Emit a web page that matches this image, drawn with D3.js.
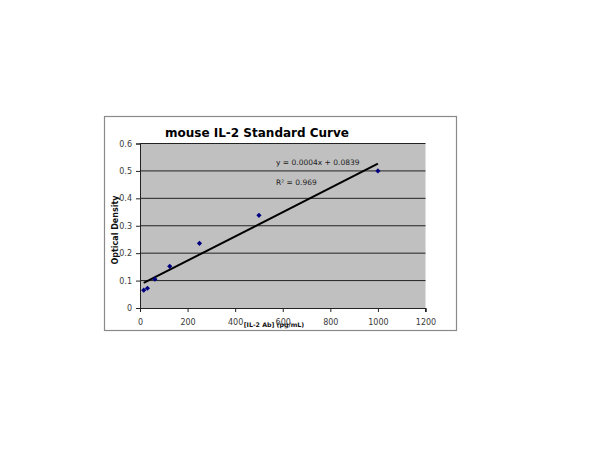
<!DOCTYPE html>
<html>
<head>
<meta charset="utf-8">
<script src="https://cdn.jsdelivr.net/npm/d3@7"></script>
<style>
  body { margin:0; background:#fff; }
  svg text { font-family: "DejaVu Sans", Verdana, sans-serif; }
</style>
</head>
<body>
<svg id="chart" width="610" height="458"></svg>
<script>
// data
const concentrations = [15.6, 31.25, 62.5, 125, 250, 500, 1000];
const densities = [0.065, 0.072, 0.105, 0.152, 0.236, 0.338, 0.5];
const xTicks = [0, 200, 400, 600, 800, 1000, 1200];
const yTicks = [0, 0.1, 0.2, 0.3, 0.4, 0.5, 0.6];
const titleText = 'mouse IL-2 Standard Curve';
const equationText = 'y = 0.0004x + 0.0839';
const r2Text = 'R\u00b2 = 0.969';

const svg = d3.select('#chart');

// outer chart box
svg.append('rect')
  .attr('x', 104.5).attr('y', 116.5).attr('width', 352).attr('height', 214)
  .attr('fill', '#fff').attr('stroke', '#8a8a8a').attr('stroke-width', 1.2);

const plot = {left:140, right:425.5, top:143.5, bottom:308};
const x = d3.scaleLinear().domain([0, 1200]).range([plot.left, plot.right]);
const y = d3.scaleLinear().domain([0, 0.6]).range([plot.bottom, plot.top]);

svg.append('rect')
  .attr('x', plot.left).attr('y', plot.top)
  .attr('width', plot.right - plot.left).attr('height', plot.bottom - plot.top)
  .attr('fill', '#c0c0c0');

// gridlines
svg.append('g').selectAll('line')
  .data(yTicks.slice(1))
  .join('line')
  .attr('x1', plot.left).attr('x2', plot.right)
  .attr('y1', d => y(d)).attr('y2', d => y(d))
  .attr('stroke', '#222').attr('stroke-width', 1);

// axes
const yAxis = svg.append('g')
  .attr('transform', `translate(${plot.left},0)`)
  .call(d3.axisLeft(y).tickValues(yTicks).tickSize(4).tickPadding(4).tickFormat(d3.format('')));
const xAxis = svg.append('g')
  .attr('transform', `translate(0,${plot.bottom})`)
  .call(d3.axisBottom(x).tickValues(xTicks).tickSize(4).tickPadding(5).tickFormat(d3.format('')));
[xAxis, yAxis].forEach(a => {
  a.select('.domain').attr('stroke', '#222').attr('stroke-width', 1);
  a.selectAll('.tick line').attr('stroke', '#222');
  a.selectAll('.tick text').attr('fill', '#3a3a3a').style('font-size', '8px');
});
xAxis.selectAll('.tick text').attr('dy', '1em');
svg.append('line')
  .attr('x1', plot.right).attr('x2', plot.right)
  .attr('y1', plot.bottom).attr('y2', plot.bottom + 4).attr('stroke', '#222');

// linear trendline (least squares from the points)
const mx = d3.mean(concentrations), my = d3.mean(densities);
let sxy = 0, sxx = 0;
concentrations.forEach((c, i) => { sxy += (c - mx) * (densities[i] - my); sxx += (c - mx) * (c - mx); });
const slope = sxy / sxx, intercept = my - slope * mx;
const x0 = d3.min(concentrations), x1 = d3.max(concentrations);
svg.append('line')
  .attr('x1', x(x0)).attr('y1', y(intercept + slope * x0))
  .attr('x2', x(x1)).attr('y2', y(intercept + slope * x1))
  .attr('stroke', '#000').attr('stroke-width', 2);

// markers
svg.append('g').selectAll('path')
  .data(concentrations.map((c, i) => [c, densities[i]]))
  .join('path')
  .attr('transform', d => `translate(${x(d[0])},${y(d[1])})`)
  .attr('d', 'M0,-2.6L2.6,0L0,2.6L-2.6,0Z')
  .attr('fill', '#000080');

// texts
svg.append('text')
  .attr('x', 165).attr('y', 137)
  .style('font-size', '12px').style('font-weight', 'bold').attr('fill', '#000')
  .text(titleText);
svg.append('text')
  .attr('x', 276).attr('y', 165)
  .style('font-size', '7.5px').attr('fill', '#222')
  .text(equationText);
svg.append('text')
  .attr('x', 276).attr('y', 185)
  .style('font-size', '7.5px').attr('fill', '#222')
  .text(r2Text);
svg.append('text')
  .attr('transform', 'translate(118,230) rotate(-90)')
  .attr('text-anchor', 'middle')
  .style('font-size', '8px').style('font-weight', 'bold').attr('fill', '#111')
  .text('Optical Density');
svg.append('text')
  .attr('x', 274).attr('y', 327)
  .attr('text-anchor', 'middle')
  .style('font-size', '6.3px').style('font-weight', 'bold').attr('fill', '#111')
  .text('[IL-2 Ab] (pg/mL)');
</script>
</body>
</html>
